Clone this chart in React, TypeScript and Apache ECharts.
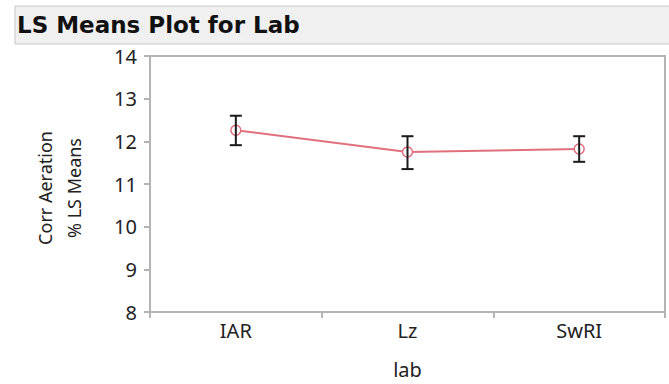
import React, { useEffect, useRef } from "react";
import * as echarts from "echarts";

const categories = ["IAR", "Lz", "SwRI"];
const means = [12.26, 11.75, 11.82];
const lower = [11.91, 11.35, 11.52];
const upper = [12.6, 12.12, 12.12];
const yTicks = { min: 8, max: 14, interval: 1 };

const FONT = "Noto Sans";

export default function App() {
  const ref = useRef<HTMLDivElement>(null);
  useEffect(() => {
    const chart = echarts.init(ref.current!, undefined, { renderer: "svg" });
    const errData = categories.map((_, i) => [i, lower[i], upper[i]]);
    chart.setOption({
      animation: false,
      backgroundColor: "#ffffff",
      grid: { left: 150, right: 4, top: 56, bottom: 71, show: true, borderColor: "#b4b4b4", borderWidth: 2 },
      graphic: [
        {
          type: "rect",
          shape: { x: 15, y: 6, width: 680, height: 38 },
          style: { fill: "#f0f0f0", stroke: "#c8c8c8", lineWidth: 1 },
          z: 0,
        },
        {
          type: "text",
          x: 17,
          y: 25,
          style: { text: "LS Means Plot for Lab", font: `bold 23px "DejaVu Sans"`, fill: "#111", textVerticalAlign: "middle" },
        },
        {
          type: "text",
          x: 45,
          y: 188,
          rotation: Math.PI / 2,
          style: { text: "Corr Aeration", font: `18px "${FONT}"`, fill: "#222", textAlign: "center", textVerticalAlign: "middle" },
        },
        {
          type: "text",
          x: 74,
          y: 188,
          rotation: Math.PI / 2,
          style: { text: "% LS Means", font: `18px "${FONT}"`, fill: "#222", textAlign: "center", textVerticalAlign: "middle" },
        },
      ],
      xAxis: {
        type: "category",
        data: categories,
        boundaryGap: true,
        name: "lab",
        nameLocation: "middle",
        nameGap: 47,
        nameTextStyle: { fontFamily: FONT, fontSize: 20, color: "#222" },
        axisLine: { lineStyle: { color: "#b4b4b4", width: 2 } },
        axisTick: { show: true, length: 6, lineStyle: { color: "#b4b4b4", width: 2 } },
        axisLabel: { fontFamily: FONT, fontSize: 20, color: "#222", margin: 8 },
        splitLine: { show: false },
      },
      yAxis: {
        type: "value",
        min: yTicks.min,
        max: yTicks.max,
        interval: yTicks.interval,
        axisLine: { show: true, lineStyle: { color: "#b4b4b4", width: 2 } },
        axisTick: { show: true, length: 6, lineStyle: { color: "#b4b4b4", width: 2 } },
        axisLabel: { fontFamily: FONT, fontSize: 20, color: "#222", margin: 13 },
        splitLine: { show: false },
      },
      series: [
        {
          type: "line",
          data: means,
          symbol: "circle",
          symbolSize: 10,
          itemStyle: { color: "#ffffff", borderColor: "#e0707c", borderWidth: 1.5 },
          lineStyle: { color: "#e0707c", width: 2 },
          z: 3,
        },
        {
          type: "custom",
          data: errData,
          z: 4,
          renderItem: (params: any, api: any) => {
            const x = api.value(0);
            const lo = api.coord([x, api.value(1)]);
            const hi = api.coord([x, api.value(2)]);
            const w = 6;
            const st = { stroke: "#1a1a1a", lineWidth: 2 };
            return {
              type: "group",
              children: [
                { type: "line", shape: { x1: lo[0], y1: lo[1], x2: hi[0], y2: hi[1] }, style: st },
                { type: "line", shape: { x1: lo[0] - w, y1: lo[1], x2: lo[0] + w, y2: lo[1] }, style: st },
                { type: "line", shape: { x1: hi[0] - w, y1: hi[1], x2: hi[0] + w, y2: hi[1] }, style: st },
              ],
            };
          },
        },
      ],
    });
    return () => chart.dispose();
  }, []);
  return <div ref={ref} style={{ position: "fixed", left: 0, top: 0, width: 669, height: 384 }} />;
}
